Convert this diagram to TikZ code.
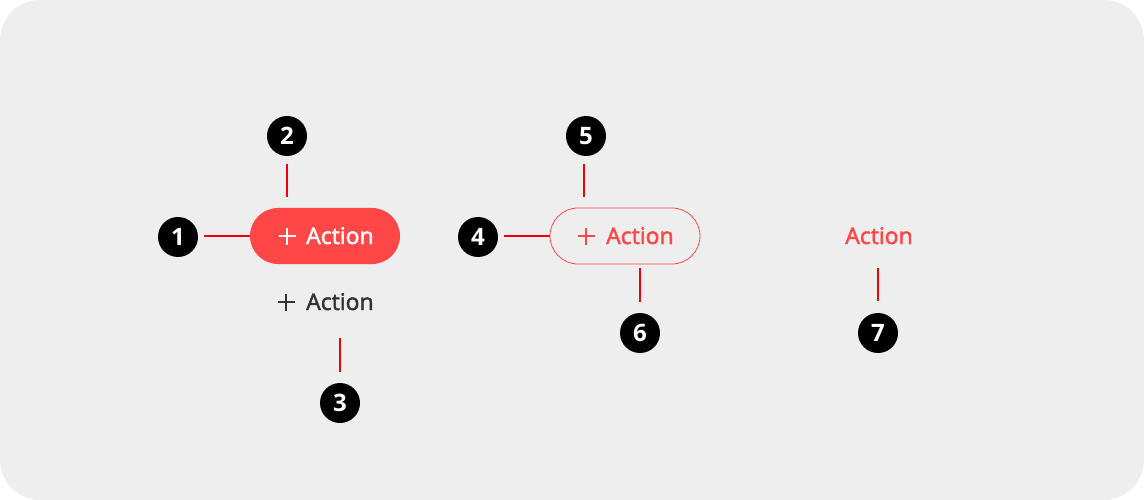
\documentclass[tikz,border=0pt]{standalone}
\usepackage{fontspec}
\setmainfont{Open Sans}
\newfontfamily\lblfont{Open Sans}[FakeBold=2]
\definecolor{bg}{HTML}{EEEEEE}
\definecolor{btnred}{HTML}{FF4747}
\definecolor{leader}{HTML}{F00000}
\definecolor{darktext}{HTML}{333333}
\begin{document}
\begin{tikzpicture}[x=1pt,y=-1pt,
  marker/.style={circle,fill=black,minimum size=40pt,inner sep=0pt,text=white,font=\fontsize{24}{24}\selectfont\bfseries},
  lead/.style={draw=leader,line width=1.8pt},
  plusicon/.style={line width=1.7pt},
  lbl/.style={font=\lblfont\fontsize{23}{23}\selectfont,inner sep=0pt,anchor=base west}
]
\useasboundingbox (0,0) rectangle (1144,500);
\fill[white] (0,0) rectangle (1144,500);
\fill[bg,rounded corners=40pt] (0,0) rectangle (1144,500);

% filled button
\fill[btnred,rounded corners=28pt] (250,208) rectangle (400,264);
\coordinate (b1plus) at (287,236);
\draw[plusicon,white] ([xshift=-8.5pt]b1plus) -- ([xshift=8.5pt]b1plus) ([yshift=-8.5pt]b1plus) -- ([yshift=8.5pt]b1plus);
\node[lbl,text=white] (b1txt) at (306,244) {Action};
\coordinate (b1L) at (250,236);
\coordinate (b1T) at (287,197);

% text button with icon
\coordinate (b2plus) at (286,302);
\draw[plusicon,darktext] ([xshift=-8.5pt]b2plus) -- ([xshift=8.5pt]b2plus) ([yshift=-8.5pt]b2plus) -- ([yshift=8.5pt]b2plus);
\node[lbl,text=darktext] (b2txt) at (306,310) {Action};
\coordinate (b2B) at (340,338);

% outlined button
\draw[btnred,line width=0.8pt,rounded corners=28pt] (550,208) rectangle (700,264);
\coordinate (b3plus) at (586,236);
\draw[plusicon,btnred] ([xshift=-8.5pt]b3plus) -- ([xshift=8.5pt]b3plus) ([yshift=-8.5pt]b3plus) -- ([yshift=8.5pt]b3plus);
\node[lbl,text=btnred] (b3txt) at (606,244) {Action};
\coordinate (b3L) at (550,236);
\coordinate (b3T) at (584,197);
\coordinate (b3B) at (640,268);

% text only
\node[lbl,text=btnred,anchor=base] (b4txt) at (879,244) {Action};
\coordinate (b4B) at (878,268);

% markers
\node[marker] (m1) at (178,237) {1};
\node[marker] (m2) at (287,136) {2};
\node[marker] (m3) at (340,403) {3};
\node[marker] (m4) at (478,237) {4};
\node[marker] (m5) at (586,136) {5};
\node[marker] (m6) at (640,333) {6};
\node[marker] (m7) at (878,333) {7};

% leaders
\draw[lead] ([xshift=6pt]m1.east |- b1L) -- (b1L);
\draw[lead] ([yshift=-8pt]m2.south) -- (b1T);
\draw[lead] (b2B) -- ([yshift=11pt]m3.north);
\draw[lead] ([xshift=6pt]m4.east |- b3L) -- (b3L);
\draw[lead] ([yshift=-8pt]m5.south -| b3T) -- (b3T);
\draw[lead] (b3B) -- ([yshift=11pt]m6.north);
\draw[lead] (b4B) -- ([yshift=12pt]m7.north);
\end{tikzpicture}
\end{document}
